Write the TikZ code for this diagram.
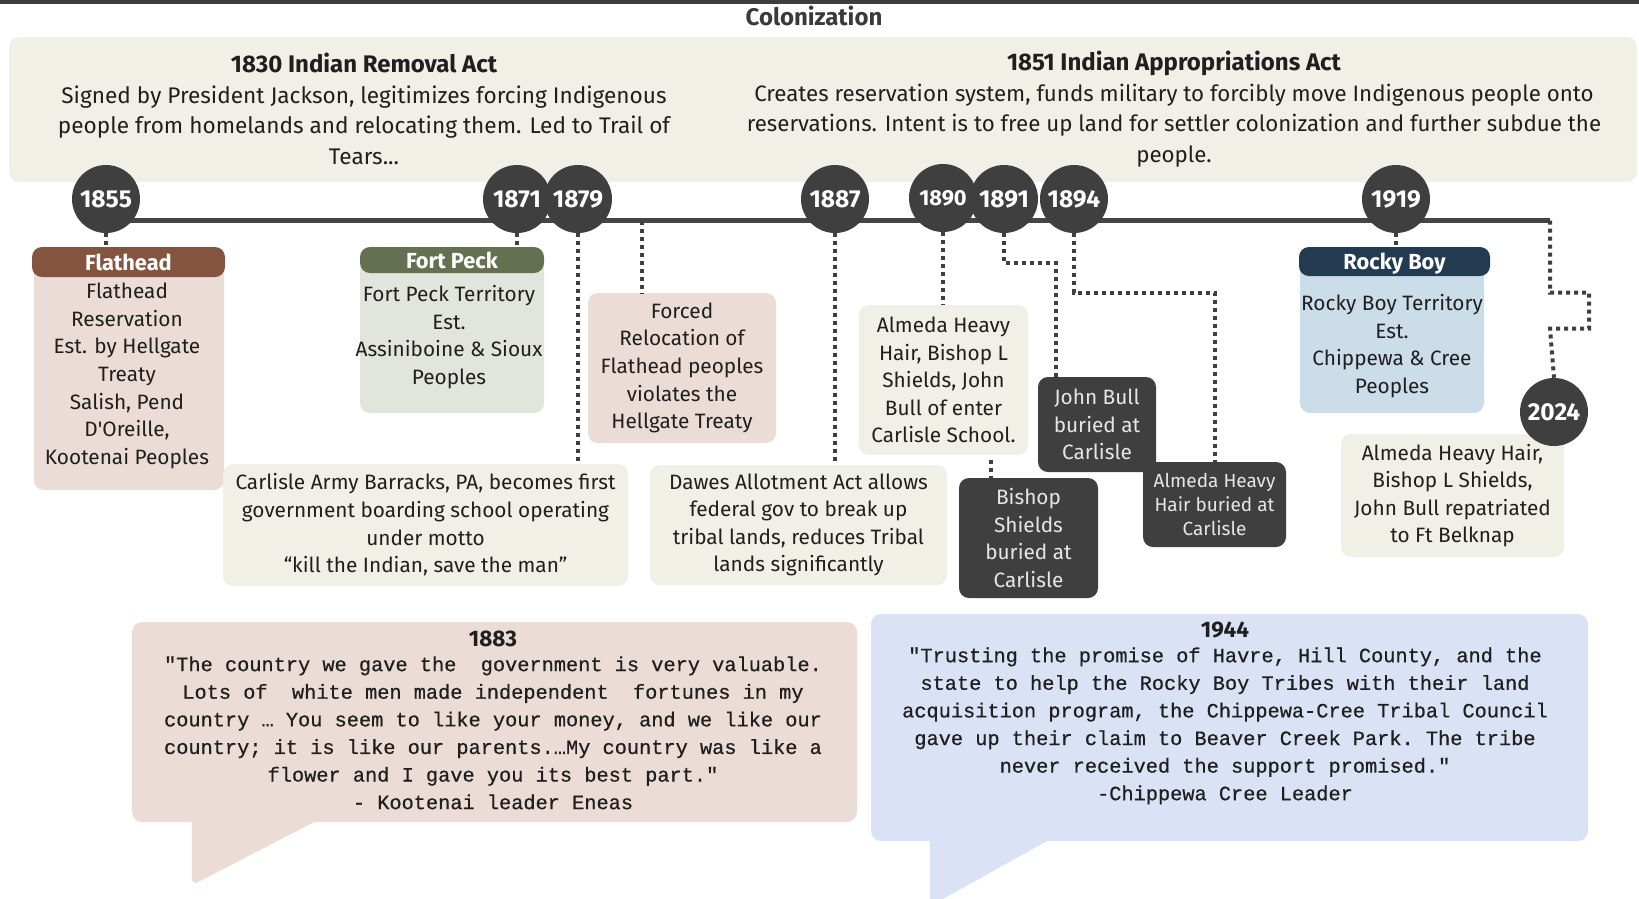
\documentclass[tikz,border=0pt]{standalone}
\usepackage{fontspec}
\setmainfont{Fira Sans}
\setmonofont{Liberation Mono}[FakeBold=0.6]
\usetikzlibrary{positioning}
\usetikzlibrary{calc}

\definecolor{darkgrey}{HTML}{3F3F3F}
\definecolor{linegrey}{HTML}{454545}
\definecolor{titlegrey}{HTML}{3A3A3A}
\definecolor{textdark}{HTML}{1F1F1F}
\definecolor{lighttext}{HTML}{E6E6E6}
\definecolor{beige}{HTML}{F1F0E6}
\definecolor{rosebox}{HTML}{EBDCD5}
\definecolor{sagebox}{HTML}{E2E5DC}
\definecolor{skybox}{HTML}{CBDDE9}
\definecolor{quoteblue}{HTML}{DAE3F5}
\definecolor{brownhead}{HTML}{855440}
\definecolor{olivehead}{HTML}{64704F}
\definecolor{navyhead}{HTML}{233B50}

\tikzset{
  yearcirc/.style={circle, fill=darkgrey, minimum size=68pt, inner sep=0pt,
    text=white, font=\fontsize{24.5}{24.5}\selectfont\bfseries},
  dotline/.style={draw=darkgrey, line width=4pt, dash pattern=on 4pt off 4pt},
  tline/.style={draw=linegrey, line width=4.5pt},
  card/.style={rounded corners=10pt, inner sep=0pt, align=center, text=textdark,
    font=\fontsize{20.8}{27.6}\selectfont},
  headcard/.style={card, text=white, text depth=0pt, font=\fontsize{21.8}{21.8}\selectfont\bfseries},
  darkcard/.style={card, fill=darkgrey, text=lighttext},
  quotetext/.style={align=center, text=textdark, font=\ttfamily\fontsize{20.3}{27.6}\selectfont},
}

\begin{document}
\begin{tikzpicture}[x=1pt, y=-1pt]
\useasboundingbox (0,0) rectangle (1639,898);

% title
\fill[darkgrey] (0,0) rectangle (1639,4);
\node[text=titlegrey, font=\fontsize{24}{24}\selectfont\bfseries] (title) at (814,16) {Colonization};

% acts
\node[card, fill=beige, minimum width=1628pt, minimum height=145pt] (acts) at (823,109.5) {};
\node[card, font=\fontsize{22.6}{30.7}\selectfont] (act1830) at (364,109)
  {{\bfseries\fontsize{24}{30.7}\selectfont 1830 Indian Removal Act}\\
   Signed by President Jackson, legitimizes forcing Indigenous\\
   people from homelands and relocating them. Led to Trail of\\
   Tears...};
\node[card, font=\fontsize{22.3}{30.7}\selectfont] (act1851) at (1174,109)
  {{\bfseries\fontsize{24}{30.7}\selectfont 1851 Indian Appropriations Act}\\
   Creates reservation system, funds military to forcibly move Indigenous people onto\\
   reservations. Intent is to free up land for settler colonization and further subdue the\\
   people.};

% timeline
\coordinate (linestart) at (106,220.5);
\coordinate (lineend) at (1550,220.5);
\coordinate (relocpt) at (642,220.5);
\draw[tline] (linestart) -- (lineend);

% cards under the line
\node[card, fill=rosebox, minimum width=190pt, minimum height=228pt] (flatheadbody) at (129,376) {};
\node[card] (flatheadtxt) at (127,376)
  {Flathead\\Reservation\\Est. by Hellgate\\Treaty\\Salish, Pend\\D\textquotesingle Oreille,\\Kootenai Peoples};
\node[headcard, fill=brownhead, minimum width=193pt, minimum height=30pt] (flatheadhead) at (128.5,262) {Flathead};

\node[card, fill=sagebox, minimum width=184pt, minimum height=153pt] (fortpeckbody) at (452,336.5) {};
\node[card] (fortpecktxt) at (449,337)
  {Fort Peck Territory\\Est.\\Assiniboine \& Sioux\\Peoples};
\node[headcard, fill=olivehead, minimum width=184pt, minimum height=26pt] (fortpeckhead) at (452,260) {Fort Peck};

\node[card, fill=rosebox, minimum width=188pt, minimum height=150pt] (forced) at (682,368)
  {Forced\\Relocation of\\Flathead peoples\\violates the\\Hellgate Treaty};

\node[card, fill=beige, minimum width=405pt, minimum height=122pt] (carlisle) at (425.5,525)
  {Carlisle Army Barracks, PA, becomes first\\government boarding school operating\\under motto\\“kill the Indian, save the man”};

\node[card, fill=beige, minimum width=297pt, minimum height=120pt] (dawes) at (798.5,525)
  {Dawes Allotment Act allows\\federal gov to break up\\tribal lands, reduces Tribal\\lands significantly};

\node[card, fill=beige, minimum width=169pt, minimum height=150pt] (almeda1890) at (943.5,380)
  {Almeda Heavy\\Hair, Bishop L\\Shields, John\\Bull of enter\\Carlisle School.};

\node[darkcard, minimum width=139pt, minimum height=120pt] (bishop) at (1028.5,538)
  {Bishop\\Shields\\buried at\\Carlisle};
\node[darkcard, minimum width=118pt, minimum height=95pt] (johnbull) at (1097,424.5)
  {John Bull\\buried at\\Carlisle};
\node[darkcard, minimum width=143pt, minimum height=85pt, font=\fontsize{19}{24}\selectfont] (almedaburied) at (1214.5,504.5)
  {Almeda Heavy\\Hair buried at\\Carlisle};

\node[card, fill=skybox, minimum width=184pt, minimum height=152pt] (rockybody) at (1392,337) {};
\node[card] (rockytxt) at (1392,346)
  {Rocky Boy Territory\\Est.\\Chippewa \& Cree\\Peoples};
\node[headcard, fill=navyhead, minimum width=191pt, minimum height=29pt] (rockyhead) at (1394.5,261.5) {Rocky Boy};

\node[card, fill=beige, minimum width=223pt, minimum height=123pt] (repat) at (1452.5,495.5)
  {Almeda Heavy Hair,\\Bishop L Shields,\\John Bull repatriated\\to Ft Belknap};

% years
\node[yearcirc] (c1855) at (106,199) {1855};
\node[yearcirc] (c1871) at (517,199) {1871};
\node[yearcirc] (c1879) at (578,199) {1879};
\node[yearcirc] (c1887) at (835,199) {1887};
\node[yearcirc, font=\fontsize{21.8}{21.8}\selectfont\bfseries] (c1890) at (943,198) {1890};
\node[yearcirc] (c1891) at (1004,199) {1891};
\node[yearcirc] (c1894) at (1074,199) {1894};
\node[yearcirc] (c1919) at (1396,199) {1919};
\node[yearcirc] (c2024) at (1554,412) {2024};

% dotted links
\coordinate (bend1891) at (1056,263);
\coordinate (bend1894) at (1215,293);
\coordinate (bishoppt) at (991,460);
\draw[dotline] (c1855.south) -- (c1855.south |- flatheadhead.north);
\draw[dotline] (c1871.south) -- (c1871.south |- fortpeckhead.north);
\draw[dotline] (c1879.south) -- (c1879.south |- carlisle.north);
\draw[dotline] (relocpt) -- (relocpt |- forced.north);
\draw[dotline] (c1887.south) -- (c1887.south |- dawes.north);
\draw[dotline] (c1890.south) -- (c1890.south |- almeda1890.north);
\draw[dotline] (bishoppt) -- (bishoppt |- bishop.north);
\draw[dotline] (c1891.south) |- (bend1891) -- (bend1891 |- johnbull.north);
\draw[dotline] (c1894.south) |- (bend1894) -- (bend1894 |- almedaburied.north);
\draw[dotline] (c1919.south) -- (c1919.south |- rockyhead.north);
\draw[dotline] (lineend) -- ++(0,72) -- ++(39,0) -- ++(0,36) -- ++(-39,0) -- (c2024.north);

% quotes
\node[card, fill=rosebox, minimum width=725pt, minimum height=200pt] (q1883) at (494.5,722) {};
\fill[rosebox] ([xshift=60pt,yshift=10pt]q1883.south west) -- ([xshift=60pt,yshift=-58pt]q1883.south west)
  -- ([xshift=64pt,yshift=-61pt]q1883.south west) -- ([xshift=182pt]q1883.south west) -- cycle;
\node[quotetext] (q1883txt) at (493,720)
  {{\rmfamily\bfseries\fontsize{22.5}{25}\selectfont 1883}\\[-2.6pt]
   "The country we gave the\ \ government is very valuable.\\
   Lots of\ \ white men made independent\ \ fortunes in my\\
   country … You seem to like your money, and we like our\\
   country; it is like our parents.…My country was like a\\
   flower and I gave you its best part."\\
   - Kootenai leader Eneas};

\node[card, fill=quoteblue, minimum width=717pt, minimum height=227pt] (q1944) at (1229.5,727.5) {};
\fill[quoteblue] ([xshift=59pt,yshift=10pt]q1944.south west) -- ([xshift=59pt,yshift=-65pt]q1944.south west)
  -- ([xshift=176pt]q1944.south west) -- cycle;
\node[quotetext] (q1944txt) at (1225,713)
  {{\rmfamily\bfseries\fontsize{22.5}{25}\selectfont 1944}\\[-2.6pt]
   "Trusting the promise of Havre, Hill County, and the\\
   state to help the Rocky Boy Tribes with their land\\
   acquisition program, the Chippewa-Cree Tribal Council\\
   gave up their claim to Beaver Creek Park. The tribe\\
   never received the support promised."\\
   -Chippewa Cree Leader};
\end{tikzpicture}
\end{document}
